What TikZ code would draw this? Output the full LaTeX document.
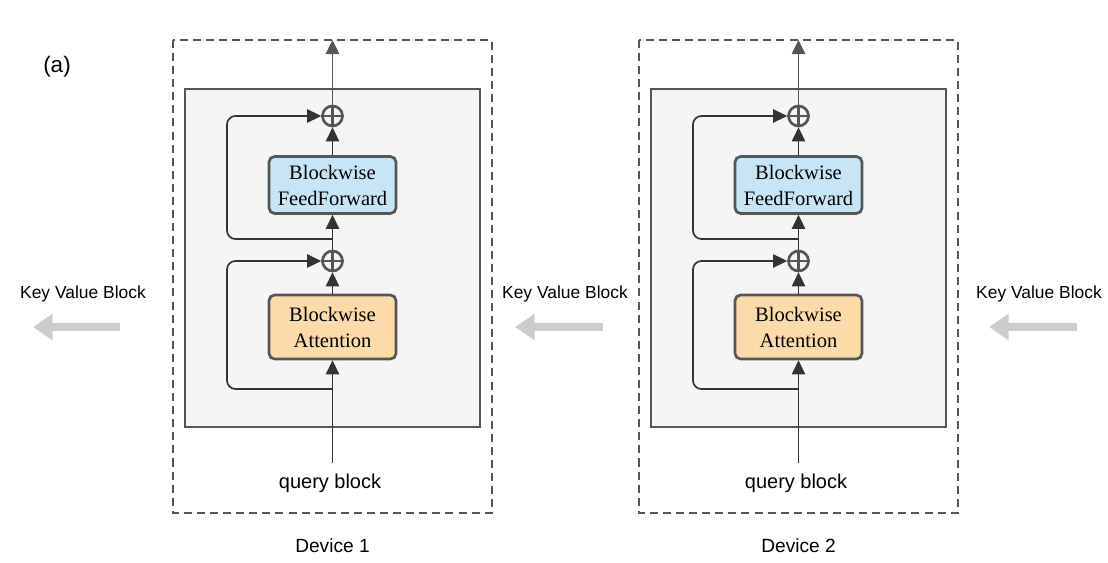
\documentclass[tikz,border=0pt]{standalone}
\usepackage{fontspec}
\setmainfont{Liberation Serif}
\setsansfont{Liberation Sans}
\usepackage{xcolor}
\usepackage{tikz}
\usetikzlibrary{calc}
\usetikzlibrary{arrows.meta}
\usetikzlibrary{positioning}
\tikzset{>=latex}
\definecolor{linegray}{HTML}{555555}
\definecolor{boxgray}{HTML}{F5F5F5}
\definecolor{arrowdark}{HTML}{333333}
\definecolor{kvgray}{HTML}{CCCCCC}
\definecolor{ffnblue}{HTML}{C6E6F7}
\definecolor{attnorange}{HTML}{FDDBA8}
\tikzstyle{devbox} = [draw=linegray, dash pattern=on 5.7pt off 3.6pt, line width=1.5pt]
\tikzstyle{innerbox} = [draw=linegray, fill=boxgray, line width=1.8pt]
\tikzstyle{layer} = [rectangle, rounded corners=4pt, draw=linegray, line width=1.9pt, minimum width=3.175cm, align=center, font=\fontsize{14.6}{18.5}\selectfont]
\tikzstyle{add} = [circle, draw=linegray, line width=1.9pt, minimum size=0.5cm, inner sep=0pt]
\tikzstyle{flow} = [-{Triangle[length=10pt 0 0,width=9.5pt 0 0]}, draw=arrowdark, line width=1.2pt]
\tikzstyle{kv} = [-{Triangle[length=14pt,width=18pt]}, draw=kvgray, line width=5pt]
\tikzstyle{lbl} = [font=\sffamily\fontsize{13.6}{16}\selectfont]

\begin{document}
\begin{tikzpicture}[x=0.025cm, y=-0.025cm]
\useasboundingbox (0,0) rectangle (1108,563);
\node [font=\sffamily\fontsize{16}{19}\selectfont] (tag) at (57,67) {(a)};

% device 1
\draw [devbox] (173,40) rectangle (492,513);
\draw [innerbox] (185,89) rectangle (480,427);
\node [layer, fill=ffnblue, minimum height=1.425cm] (ffn1) at (332.5,185) {Blockwise\\FeedForward};
\node [layer, fill=attnorange, minimum height=1.6cm] (attn1) at (332.5,327) {Blockwise\\Attention};
\node [add] (addtop1) at (332.5,116) {};
\node [add] (addbot1) at (332.5,261) {};
\draw [draw=linegray, line width=1.9pt] (addtop1.north) -- (addtop1.south) (addtop1.west) -- (addtop1.east);
\draw [draw=linegray, line width=1.9pt] (addbot1.north) -- (addbot1.south) (addbot1.west) -- (addbot1.east);
\coordinate (out1) at (332.5,40);
\coordinate (in1) at (332.5,463);
\coordinate (split1) at (332.5,239);
\coordinate (split2) at (332.5,389);
\coordinate (skip1) at (227,0);
\draw [flow] (in1) -- (attn1.south);
\draw [flow] (attn1.north) -- (addbot1.south);
\draw [flow] (addbot1.north) -- (ffn1.south);
\draw [flow] (ffn1.north) -- (addtop1.south);
\draw [flow, draw=linegray] (addtop1.north) -- (out1);
\draw [flow, rounded corners=6pt] (split1) -- (split1 -| skip1) |- (addtop1.west);
\draw [flow, rounded corners=6pt] (split2) -- (split2 -| skip1) |- (addbot1.west);
\node [lbl, font=\sffamily\fontsize{14.2}{16}\selectfont] (query1) at (330,483) {query block};
\node [lbl] (dname1) at (332.5,546) {Device 1};

% device 2
\draw [devbox] (639,40) rectangle (958,513);
\draw [innerbox] (651,89) rectangle (946,427);
\node [layer, fill=ffnblue, minimum height=1.425cm] (ffn2) at (798.5,185) {Blockwise\\FeedForward};
\node [layer, fill=attnorange, minimum height=1.6cm] (attn2) at (798.5,327) {Blockwise\\Attention};
\node [add] (addtop2) at (798.5,116) {};
\node [add] (addbot2) at (798.5,261) {};
\draw [draw=linegray, line width=1.9pt] (addtop2.north) -- (addtop2.south) (addtop2.west) -- (addtop2.east);
\draw [draw=linegray, line width=1.9pt] (addbot2.north) -- (addbot2.south) (addbot2.west) -- (addbot2.east);
\coordinate (out2) at (798.5,40);
\coordinate (in2) at (798.5,463);
\coordinate (split3) at (798.5,239);
\coordinate (split4) at (798.5,389);
\coordinate (skip2) at (693,0);
\draw [flow] (in2) -- (attn2.south);
\draw [flow] (attn2.north) -- (addbot2.south);
\draw [flow] (addbot2.north) -- (ffn2.south);
\draw [flow] (ffn2.north) -- (addtop2.south);
\draw [flow, draw=linegray] (addtop2.north) -- (out2);
\draw [flow, rounded corners=6pt] (split3) -- (split3 -| skip2) |- (addtop2.west);
\draw [flow, rounded corners=6pt] (split4) -- (split4 -| skip2) |- (addbot2.west);
\node [lbl, font=\sffamily\fontsize{14.2}{16}\selectfont] (query2) at (796,483) {query block};
\node [lbl] (dname2) at (798.5,546) {Device 2};

% key value blocks passed to the left
\node [font=\sffamily\fontsize{12.4}{15}\selectfont] (kvtext0) at (83,293.5) {Key Value Block};
\node [font=\sffamily\fontsize{12.4}{15}\selectfont] (kvtext1) at (565,293.5) {Key Value Block};
\node [font=\sffamily\fontsize{12.4}{15}\selectfont] (kvtext2) at (1039,293.5) {Key Value Block};
\coordinate (kvs0) at (120,327);
\coordinate (kve0) at (33,327);
\coordinate (kvs1) at (603,327);
\coordinate (kve1) at (515,327);
\coordinate (kvs2) at (1077,327);
\coordinate (kve2) at (989,327);
\draw [kv] (kvs0) -- (kve0);
\draw [kv] (kvs1) -- (kve1);
\draw [kv] (kvs2) -- (kve2);
\end{tikzpicture}
\end{document}
